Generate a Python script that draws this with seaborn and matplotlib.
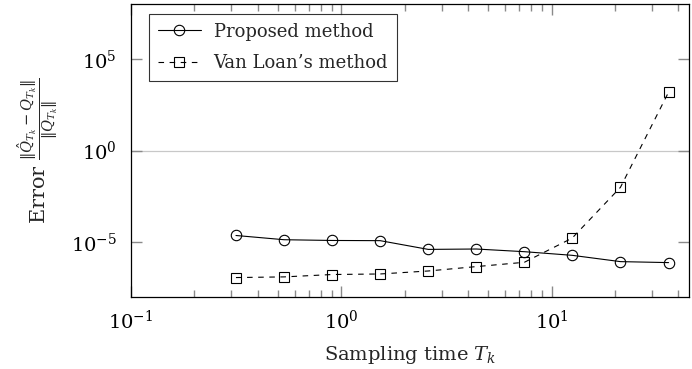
import numpy as np
import pandas as pd
import matplotlib
matplotlib.use("Agg")
import matplotlib.pyplot as plt
import matplotlib.ticker as mticker
import seaborn as sns

# ==============================
# DATA
# ==============================
sampling_time = [0.316, 0.535, 0.905, 1.53, 2.59, 4.38, 7.41, 12.5, 21.2, 35.9]
err_proposed = [2.3e-5, 1.35e-5, 1.23e-5, 1.2e-5, 4.0e-6, 4.2e-6, 3.0e-6, 1.9e-6, 8.6e-7, 7.6e-7]
err_vanloan = [1.16e-7, 1.26e-7, 1.7e-7, 1.82e-7, 2.65e-7, 4.6e-7, 7.9e-7, 1.65e-5, 9.8e-3, 1.55e3]
series_names = ["Proposed method", "Van Loan\u2019s method"]

# ==============================
# STYLE (ticks set up front through rcParams)
# ==============================
sns.set_theme(style="ticks")
plt.rcParams["font.family"] = ["DejaVu Serif"]
plt.rcParams["mathtext.fontset"] = "dejavuserif"
plt.rcParams["font.size"] = 14
for a in ("xtick", "ytick"):
    plt.rcParams[a + ".direction"] = "in"
    plt.rcParams[a + ".color"] = "#8a8a8a"
    plt.rcParams[a + ".labelcolor"] = "black"
    plt.rcParams[a + ".labelsize"] = 14
    plt.rcParams[a + ".major.size"] = 8
    plt.rcParams[a + ".minor.size"] = 5
    plt.rcParams[a + ".major.width"] = 1.0
    plt.rcParams[a + ".minor.width"] = 1.0
plt.rcParams["xtick.top"] = True
plt.rcParams["ytick.right"] = True
plt.rcParams["xtick.major.pad"] = 9
plt.rcParams["ytick.major.pad"] = 10
plt.rcParams["axes.edgecolor"] = "black"
plt.rcParams["axes.linewidth"] = 0.9

fig = plt.figure(figsize=(6.92, 3.69), dpi=100)
ax = fig.add_axes([0.189, 0.195, 0.807, 0.794])

# ==============================
# LINES
# ==============================
sns.lineplot(x=sampling_time, y=err_proposed, ax=ax, color="black", lw=0.8,
             marker="o", markersize=7.5, markerfacecolor="none",
             markeredgecolor="black", markeredgewidth=0.8, label=series_names[0])
sns.lineplot(x=sampling_time, y=err_vanloan, ax=ax, color="black", lw=0.8,
             linestyle=(0, (5, 5)), marker="s", markersize=7,
             markerfacecolor="none", markeredgecolor="black",
             markeredgewidth=0.8, label=series_names[1])

# ==============================
# AXES
# ==============================
ax.set_xscale("log")
ax.set_yscale("log")
ax.set_xlim(0.1, 45)
ax.set_ylim(1e-8, 1e8)
ax.xaxis.set_major_locator(mticker.FixedLocator([0.1, 1, 10]))
ax.yaxis.set_major_locator(mticker.FixedLocator([1e-5, 1, 1e5]))
ax.yaxis.set_minor_locator(mticker.NullLocator())

ax.axhline(1, color="#c8c8c8", lw=0.9, zorder=0)

ax.set_xlabel("Sampling time $T_k$", fontsize=14, labelpad=8)
ax.set_ylabel(r"Error $\frac{\Vert\hat{Q}_{T_k}-Q_{T_k}\Vert}{\Vert Q_{T_k}\Vert}$",
              fontsize=15, labelpad=8)

leg = ax.legend(loc="upper left", frameon=True, fancybox=False, fontsize=13,
                bbox_to_anchor=(0.032, 0.967), borderaxespad=0, handlelength=2.4,
                borderpad=0.5, labelspacing=0.75, handletextpad=0.7)
leg.get_frame().set_edgecolor("black")
leg.get_frame().set_linewidth(0.8)

fig.savefig("out.png", dpi=100)
